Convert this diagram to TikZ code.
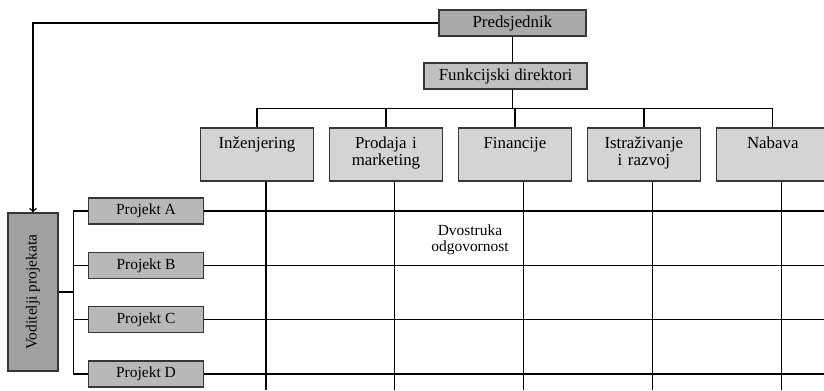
\documentclass[tikz,border=0pt]{standalone}
\usepackage{fontspec}
\setmainfont{Liberation Serif}
\usepackage{graphicx}
\usepackage{tikz}
\usetikzlibrary{positioning, arrows}
\definecolor{topgray}{RGB}{170, 170, 170}
\definecolor{headgray}{RGB}{192, 192, 192}
\definecolor{unitgray}{RGB}{212, 212, 212}
\definecolor{projgray}{RGB}{184, 184, 184}
\definecolor{leadgray}{RGB}{160, 160, 160}
\definecolor{rim}{RGB}{55, 55, 55}

\begin{document}
\begin{tikzpicture}[
            box/.style={rectangle, draw=rim, line width=1.1pt, fill=#1, inner sep=0pt, align=center},
            unit/.style={box=unitgray, font=\fontsize{12}{12.5}\selectfont, text width=2.6cm, inner xsep=0.1125cm, text height=0.5cm, text depth=0.825cm},
            project/.style={box=projgray, font=\fontsize{11}{12}\selectfont, minimum width=2.875cm, minimum height=0.65cm},
            link/.style={line width=1pt, black}
        ]
            \path[use as bounding box, clip] (0,0) rectangle (20.6,-9.75);
            \coordinate (bottom) at (0,-9.75);
            \coordinate (rightend) at (20.6,0);

            \node (pres) [box=topgray, minimum width=3.675cm, minimum height=0.65cm, font=\fontsize{12}{12.5}\selectfont] at (12.81,-0.575) {Predsjednik};
            \node (funk) [box=headgray, minimum width=4.075cm, minimum height=0.65cm, font=\fontsize{12}{12.5}\selectfont] at (12.64,-1.9) {Funkcijski direktori};

            \node (inz) [unit] at (6.425,-3.8625) {Inženjering};
            \node (prod) [unit, right=0.36cm of inz] {Prodaja i\\marketing};
            \node (fin) [unit, right=0.36cm of prod] {Financije};
            \node (ist) [unit, right=0.36cm of fin] {Istraživanje\\i razvoj};
            \node (nab) [unit, right=0.36cm of ist] {Nabava};

            \node (pa) [project] at (3.65,-5.275) {Projekt A};
            \node (pb) [project, below=0.67cm of pa] {Projekt B};
            \node (pc) [project, below=0.67cm of pb] {Projekt C};
            \node (pd) [project, below=0.67cm of pc] {Projekt D};

            \node (vod) [box=leadgray, minimum width=1.25cm, minimum height=3.95cm, font=\fontsize{11}{12}\selectfont] at (0.825,-7.3) {\rotatebox{90}{Voditelji projekata}};

            \node (dual) [align=center, font=\fontsize{11}{11.5}\selectfont] at (11.75,-6.0) {Dvostruka\\odgovornost};

            \draw[link] (pres.south) -- (pres.south |- funk.north);
            \foreach \u in {inz, prod, fin, ist, nab} {
                \draw[link] (pres.south |- funk.south) -- ++(0,-0.475) -| (\u.north);
                \draw[link] ([xshift=0.22cm]\u.south) -- ([xshift=0.22cm]\u.south |- bottom);
            }
            \foreach \p in {pa, pb, pc, pd} {
                \draw[link] (\p.east) -- (\p.east -| rightend);
                \draw[link] (vod.east) -- ++(0.375,0) |- (\p.west);
            }
            \draw[link, ->] (pres.west) -| (vod.north);
        \end{tikzpicture}
\end{document}
